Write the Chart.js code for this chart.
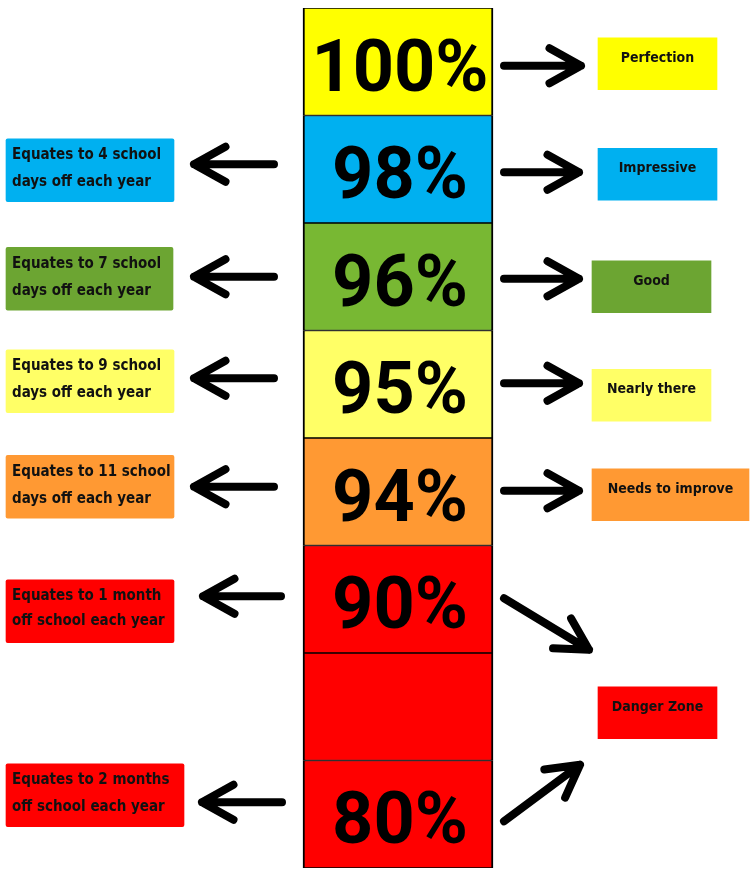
<!DOCTYPE html>
<html>
<head>
<meta charset="utf-8">
<script src="https://cdn.jsdelivr.net/npm/chart.js@4.4.1/dist/chart.umd.min.js"></script>
<style>
  html, body { margin: 0; padding: 0; background: #fff; }
  canvas { display: block; }
</style>
</head>
<body>
<canvas id="c" width="750" height="869"></canvas>
<script>
// ---- data ----
const LEVELS = ['100%', '98%', '96%', '95%', '94%', '90%', '', '80%'];
const LEVEL_COLORS = ['#FFFF00', '#00B0F0', '#78B833', '#FFFF66', '#FF9933', '#FF0000', '#FF0000', '#FF0000'];

const NOTE_ROWS = [1, 2, 3, 4, 5, 7];
const NOTE_LINES = [
  ['Equates to 4 school', 'days off each year'],
  ['Equates to 7 school', 'days off each year'],
  ['Equates to 9 school', 'days off each year'],
  ['Equates to 11 school', 'days off each year'],
  ['Equates to 1 month', 'off school each year'],
  ['Equates to 2 months', 'off school each year']
];
const NOTE_COLORS = ['#00B0F0', '#6CA532', '#FFFF66', '#FF9933', '#FF0000', '#FF0000'];

const RATING_ROWS = [0, 1, 2, 3, 4, 6];
const RATINGS = ['Perfection', 'Impressive', 'Good', 'Nearly there', 'Needs to improve', 'Danger Zone'];
const RATING_COLORS = ['#FFFF00', '#00B0F0', '#6CA532', '#FFFF66', '#FF9933', '#FF0000'];

// ---- layout (x in 0..750 units, y2 in 0..860 units = chart area) ----
const ROW_H = 107.5;
const MAIN_X = [303, 493];
const NOTE_X = [[6, 174], [6, 173], [6, 174], [6, 174], [6, 174], [6, 184]];
const NOTE_DY = [1, 2, -3, -5, 12, -19];
const RATING_X = [[598, 717], [598, 717], [592, 711], [592, 711], [592, 749], [598, 717]];
const RATING_DY = [2, 5, 10, 11, 3, 6];

// arrows: row, side, dy from row centre, tail gap, tip gap (from column edge)
const SIDE_ARROWS = [
  [0, 'R', 4, 11, 88], [1, 'R', 3, 11, 86], [2, 'R', 2, 11, 86], [3, 'R', -1, 11, 86], [4, 'R', -1, 11, 86],
  [1, 'L', -5, 29, 109], [2, 'L', 0, 29, 109], [3, 'L', -6, 29, 109], [4, 'L', -5, 29, 109],
  [5, 'L', -3, 22, 100], [7, 'L', -12, 21, 101]
];

const NUM_FONT = 'bold 72px Roboto, "DejaVu Sans Condensed", sans-serif';
const NOTE_FONT = 'bold 15px "DejaVu Sans Condensed", "DejaVu Sans", sans-serif';
const RATING_FONT = 'bold 14px "DejaVu Sans Condensed", "DejaVu Sans", sans-serif';

function arrow(ctx, x0, y0, x1, y1) {
  var a = Math.atan2(y1 - y0, x1 - x0), L = 36, h = 29 * Math.PI / 180;
  ctx.beginPath();
  ctx.moveTo(x0, y0);
  ctx.lineTo(x1, y1);
  ctx.moveTo(x1 - L * Math.cos(a - h), y1 - L * Math.sin(a - h));
  ctx.lineTo(x1, y1);
  ctx.lineTo(x1 - L * Math.cos(a + h), y1 - L * Math.sin(a + h));
  ctx.stroke();
}

function box(el) {
  var p = el.getProps(['x', 'y', 'base', 'height'], true);
  return { l: Math.min(p.x, p.base), r: Math.max(p.x, p.base), cy: p.y, h: p.height };
}

const labelsPlugin = {
  id: 'labels',
  afterDatasetsDraw(chart) {
    var ctx = chart.ctx;
    var main = chart.getDatasetMeta(0).data.map(box);
    var notes = chart.getDatasetMeta(1).data.map(box);
    var rates = chart.getDatasetMeta(2).data.map(box);
    ctx.save();
    ctx.fillStyle = '#000';
    ctx.textBaseline = 'alphabetic';

    // big percentages
    ctx.font = NUM_FONT;
    ctx.textAlign = 'center';
    main.forEach(function (b, i) {
      if (LEVELS[i]) ctx.fillText(LEVELS[i], (b.l + b.r) / 2 + 2, b.cy + 29);
    });

    // notes on the left
    ctx.font = NOTE_FONT;
    ctx.textAlign = 'left';
    ctx.fillStyle = '#111';
    notes.forEach(function (b, k) {
      var gap = NOTE_ROWS[k] === 5 ? 25 : 27;
      ctx.fillText(NOTE_LINES[k][0], b.l + 6, b.cy - 11);
      ctx.fillText(NOTE_LINES[k][1], b.l + 6, b.cy - 11 + gap);
    });

    // ratings on the right
    ctx.font = RATING_FONT;
    ctx.textAlign = 'center';
    rates.forEach(function (b, k) {
      ctx.fillText(RATINGS[k], (b.l + b.r) / 2, b.cy - 2);
    });

    // arrows
    ctx.strokeStyle = '#000';
    ctx.lineWidth = 8;
    ctx.lineCap = 'round';
    ctx.lineJoin = 'round';
    SIDE_ARROWS.forEach(function (s) {
      var b = main[s[0]], y = b.cy + s[2];
      if (s[1] === 'R') arrow(ctx, b.r + s[3], y, b.r + s[4], y);
      else arrow(ctx, b.l - s[3], y, b.l - s[4], y);
    });
    var danger = rates[RATING_ROWS.indexOf(6)];
    var up = main[5], low = main[7];
    arrow(ctx, up.r + 11, up.cy - 1, danger.l - 9, danger.cy - 63);
    arrow(ctx, low.r + 11, low.cy + 7, danger.l - 18, danger.cy + 52);
    ctx.restore();
  }
};

new Chart(document.getElementById('c'), {
  type: 'bar',
  data: {
    labels: LEVELS,
    datasets: [
      {
        data: LEVELS.map(function () { return MAIN_X; }),
        backgroundColor: LEVEL_COLORS,
        borderColor: '#000',
        borderWidth: { top: 1, bottom: 1, left: 2, right: 2 },
        borderSkipped: false,
        yAxisID: 'y',
        grouped: false,
        categoryPercentage: 1,
        barPercentage: 1
      },
      {
        data: NOTE_ROWS.map(function (r, k) { return { x: NOTE_X[k], y: (r + 0.5) * ROW_H + NOTE_DY[k] }; }),
        backgroundColor: NOTE_COLORS,
        borderWidth: 0,
        borderRadius: 2,
        borderSkipped: false,
        yAxisID: 'y2',
        grouped: false,
        barThickness: 63
      },
      {
        data: RATING_ROWS.map(function (r, k) { return { x: RATING_X[k], y: (r + 0.5) * ROW_H + RATING_DY[k] }; }),
        backgroundColor: RATING_COLORS,
        borderWidth: 0,
        yAxisID: 'y2',
        grouped: false,
        barThickness: 52
      }
    ]
  },
  options: {
    indexAxis: 'y',
    responsive: false,
    animation: false,
    layout: { padding: { top: 8, bottom: 1, left: 0, right: 0 } },
    plugins: { legend: { display: false }, tooltip: { enabled: false } },
    scales: {
      x: { type: 'linear', min: 0, max: 750, display: false },
      y: { type: 'category', labels: LEVELS, offset: true, display: false },
      y2: { type: 'linear', min: 0, max: 860, reverse: true, offset: false, display: false }
    }
  },
  plugins: [labelsPlugin]
});
</script>
</body>
</html>
